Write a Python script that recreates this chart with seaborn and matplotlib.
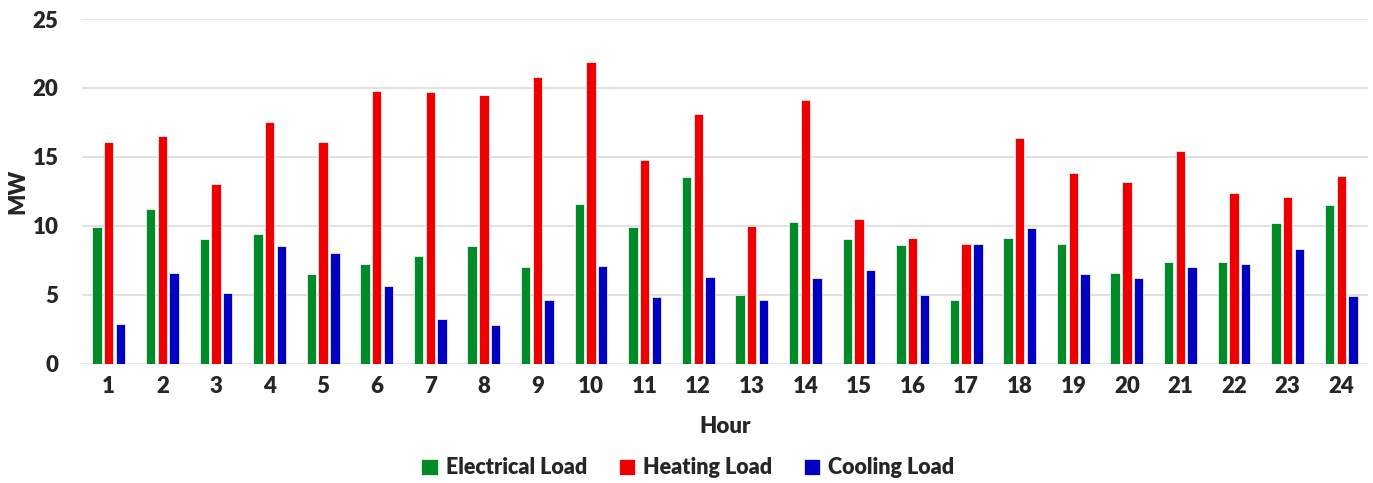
import matplotlib
matplotlib.use("Agg")
import matplotlib.pyplot as plt
import seaborn as sns
import pandas as pd

hours = list(range(1, 25))
electrical = [9.9, 11.2, 9.0, 9.4, 6.5, 7.2, 7.8, 8.5, 7.0, 11.6, 9.9, 13.5,
              5.0, 10.3, 9.0, 8.6, 4.6, 9.1, 8.7, 6.6, 7.4, 7.4, 10.2, 11.5]
heating = [16.1, 16.5, 13.0, 17.5, 16.1, 19.8, 19.7, 19.5, 20.8, 21.9, 14.8, 18.1,
           10.0, 19.1, 10.5, 9.1, 8.7, 16.4, 13.8, 13.2, 15.4, 12.4, 12.1, 13.6]
cooling = [2.9, 6.6, 5.1, 8.5, 8.0, 5.6, 3.2, 2.8, 4.6, 7.1, 4.8, 6.3,
           4.6, 6.2, 6.8, 5.0, 8.7, 9.8, 6.5, 6.2, 7.0, 7.2, 8.3, 4.9]
series_names = ["Electrical Load", "Heating Load", "Cooling Load"]
colors = ["#008A28", "#EE0000", "#0000C0"]

df = pd.DataFrame({
    "Hour": hours * 3,
    "MW": electrical + heating + cooling,
    "Load": [series_names[0]] * 24 + [series_names[1]] * 24 + [series_names[2]] * 24,
})

sns.set_style("white")
plt.rcParams["font.family"] = ["Lato", "DejaVu Sans"]
W = "heavy"

fig = plt.figure(figsize=(13.73, 4.83), dpi=100)
ax = fig.add_axes([82 / 1373, 1 - 363.5 / 483, (1368 - 82) / 1373, (363.5 - 19) / 483])

sns.barplot(data=df, x="Hour", y="MW", hue="Load", palette=colors,
            width=0.655, gap=0.2, edgecolor="white", linewidth=0.5,
            saturation=1, errorbar=None, ax=ax, zorder=3)

ax.set_ylim(0, 25)
ax.set_xlim(-0.5, 23.5)
ax.set_yticks([0, 5, 10, 15, 20, 25])
ax.yaxis.grid(True, color="#dcdcdc", linewidth=1.2, zorder=0)
ax.set_axisbelow(True)
for s in ax.spines.values():
    s.set_visible(False)

ax.tick_params(axis="both", length=0, labelsize=16)
ax.tick_params(axis="x", pad=9)
ax.tick_params(axis="y", pad=17)
for lab in ax.get_xticklabels() + ax.get_yticklabels():
    lab.set_fontweight(W)

ax.set_xlabel("Hour", fontsize=16, fontweight=W, labelpad=14)
ax.set_ylabel("MW", fontsize=16, fontweight=W)
# y-label centred at a fixed horizontal position near the left figure edge
ax.yaxis.set_label_coords(18 / 1373, 1 - 191 / 483, transform=fig.transFigure)
ax.yaxis.label.set_verticalalignment("center")

handles, labels = ax.get_legend_handles_labels()
ax.legend_.remove()
fig.legend(handles, labels, loc="center", bbox_to_anchor=(688 / 1373, 1 - 468 / 483),
           ncol=3, frameon=False, handlelength=0.75, handleheight=0.75,
           handletextpad=0.4, columnspacing=1.45, prop={"weight": W, "size": 15.5})

fig.savefig("out.png", dpi=100, facecolor="white")
